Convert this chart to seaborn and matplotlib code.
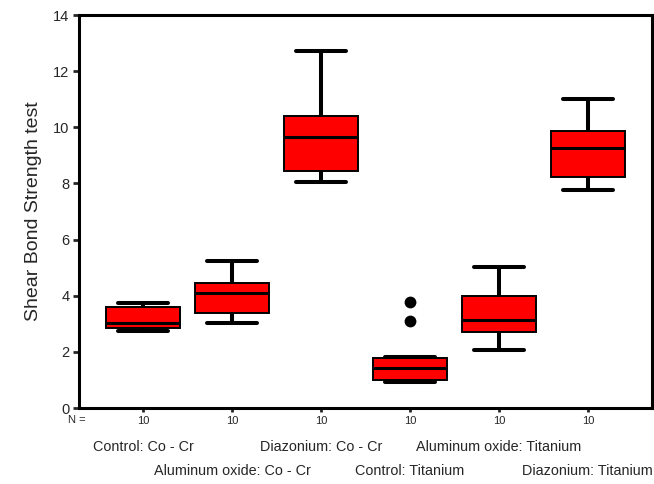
import numpy as np
import pandas as pd
import matplotlib
matplotlib.use("Agg")
import matplotlib.pyplot as plt
import seaborn as sns

# groups in plotting order
groups = ["Control: Co - Cr", "Aluminum oxide: Co - Cr", "Diazonium: Co - Cr",
          "Control: Titanium", "Aluminum oxide: Titanium", "Diazonium: Titanium"]
n_counts = [10, 10, 10, 10, 10, 10]

# five-number summaries
whisker_low = [2.75, 3.02, 8.04, 0.93, 2.07, 7.77]
q1 = [2.84, 3.40, 8.45, 1.00, 2.72, 8.22]
median = [3.04, 4.11, 9.67, 1.41, 3.13, 9.25]
q3 = [3.61, 4.46, 10.41, 1.77, 4.00, 9.88]
whisker_high = [3.74, 5.24, 12.72, 1.80, 5.03, 11.00]

outlier_group = ["Control: Titanium", "Control: Titanium"]
outlier_value = [3.10, 3.79]

# long form table: one row per summary value
rows = []
for i, g in enumerate(groups):
    for v in (whisker_low[i], q1[i], median[i], q3[i], whisker_high[i]):
        rows.append((g, v))
df = pd.DataFrame(rows, columns=["group", "value"])
df_out = pd.DataFrame({"group": outlier_group, "value": outlier_value})

sns.set_style("ticks")
plt.rcParams["font.family"] = ["Liberation Sans", "DejaVu Sans"]

fig = plt.figure(figsize=(6.54, 4.84), dpi=100)
ax = fig.add_axes([0.1208, 0.157, 0.876, 0.812])

sns.boxplot(data=df, x="group", y="value", order=groups, ax=ax,
            width=0.83, whis=np.inf, color="#ff0000", saturation=1,
            linecolor="black", showfliers=False, capwidths=0.57,
            boxprops=dict(linewidth=1.4, edgecolor="black", facecolor="#ff0000"),
            whiskerprops=dict(linewidth=2.9, color="black"),
            capprops=dict(linewidth=2.9, color="black"),
            medianprops=dict(linewidth=2.2, color="black"))

sns.stripplot(data=df_out, x="group", y="value", order=groups, ax=ax,
              jitter=False, color="black", size=8.5, linewidth=0)

ax.set_ylim(0, 14)
ax.set_yticks(range(0, 15, 2))
ax.set_xlim(-0.72, 5.72)
ax.set_xticks(range(len(groups)))
ax.set_xticklabels([str(n) for n in n_counts])
ax.tick_params(axis="x", length=3, width=2, labelsize=8, pad=3)
ax.tick_params(axis="y", length=4, width=2, labelsize=10.5, pad=3)
ax.set_xlabel("")
ax.set_ylabel("Shear Bond Strength test", fontsize=14, labelpad=8)

for side in ["top", "right", "bottom", "left"]:
    ax.spines[side].set_visible(True)
    ax.spines[side].set_linewidth(2.2)
    ax.spines[side].set_color("black")

xform = ax.get_xaxis_transform()
ax.text(-0.745, -0.031, "N =", transform=xform, ha="center", va="center",
        fontsize=8)
for i, g in enumerate(groups):
    y = -0.098 if i % 2 == 0 else -0.16
    ax.text(i, y, g, transform=xform, ha="center", va="center",
            fontsize=10.4)

fig.savefig("out.png", dpi=100)
